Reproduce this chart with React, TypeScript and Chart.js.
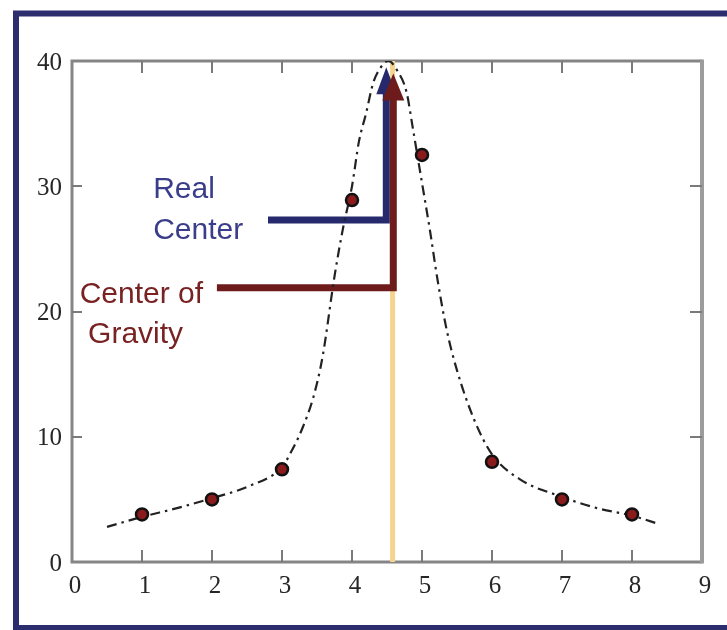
import React, { useEffect, useRef } from "react";
import { Chart, registerables } from "chart.js";

Chart.register(...registerables);

// Measured samples
const sampleX = [1, 2, 3, 4, 5, 6, 7, 8];
const sampleY = [3.8, 5.0, 7.4, 28.9, 32.5, 8.0, 5.0, 3.8];

// Fitted peak curve (dash-dot)
const fitX = [0.5, 1.0, 1.5, 2.0, 2.5, 3.0, 3.15, 3.3, 3.45, 3.58, 3.75, 3.87, 4.0, 4.1, 4.2, 4.3, 4.4, 4.52, 4.65, 4.78, 4.87, 4.99, 5.11, 5.22, 5.35, 5.5, 5.75, 6.0, 6.4, 7.0, 7.5, 8.0, 8.4];
const fitY = [2.8, 3.6, 4.3, 5.1, 6.0, 7.6, 9.0, 10.8, 13.2, 16.4, 22.8, 26.6, 30.0, 33.6, 35.8, 38.2, 39.4, 40.0, 39.2, 37.5, 34.6, 30.6, 26.6, 22.6, 18.6, 15.3, 11.3, 8.6, 6.6, 5.2, 4.3, 3.7, 3.0];

// Axis ranges
const xRange = [0, 9];
const yRange = [0, 40];

// Marker positions
const gravityX = 4.58;
const realCenterX = 4.49;

// Arrows: [startX, levelY, stemX, tipY]
const realArrow = [2.8, 27.3, realCenterX, 39.5];
const gravityArrow = [2.07, 21.9, 4.59, 39.0];

// Annotation text: [text, x, baselineY]
const realLabels: [string, number, number][] = [
  ["Real", 1.16, 29.1],
  ["Center", 1.16, 25.75],
];
const gravityLabels: [string, number, number][] = [
  ["Center of", 0.11, 20.7],
  ["Gravity", 0.23, 17.5],
];

const NAVY = "#262a6c";
const NAVY_TEXT = "#3a3e8a";
const MAROON = "#6e1b1c";
const MAROON_TEXT = "#782223";

const pageFrame = {
  id: "pageFrame",
  beforeDraw(chart: any) {
    const { ctx, width, height } = chart;
    ctx.save();
    ctx.fillStyle = "#ffffff";
    ctx.fillRect(0, 0, width, height);
    ctx.restore();
  },
  afterDraw(chart: any) {
    const { ctx, width } = chart;
    ctx.save();
    ctx.strokeStyle = "#2b2d6e";
    ctx.lineWidth = 6;
    ctx.strokeRect(16, 13.5, width + 20, 614.5);
    ctx.restore();
  },
};

const plotBox = {
  id: "plotBox",
  beforeDatasetsDraw(chart: any) {
    const { ctx, chartArea, scales } = chart;
    const { left, right, top, bottom } = chartArea;
    const x = scales.x;
    const y = scales.y;
    ctx.save();
    ctx.lineCap = "butt";
    // box
    ctx.strokeStyle = "#858585";
    ctx.lineWidth = 3;
    ctx.beginPath();
    ctx.moveTo(right, bottom);
    ctx.lineTo(left, bottom);
    ctx.lineTo(left, top);
    ctx.lineTo(right, top);
    ctx.stroke();
    ctx.strokeStyle = "#9c9c9c";
    ctx.lineWidth = 4;
    ctx.beginPath();
    ctx.moveTo(right, top - 1.5);
    ctx.lineTo(right, bottom + 1.5);
    ctx.stroke();
    // inward ticks
    ctx.strokeStyle = "#7a7a7a";
    ctx.lineWidth = 2;
    ctx.beginPath();
    x.ticks.forEach((t: any) => {
      if (t.value <= xRange[0] || t.value >= xRange[1]) return;
      const px = Math.round(x.getPixelForValue(t.value));
      ctx.moveTo(px, bottom);
      ctx.lineTo(px, bottom - 12);
      ctx.moveTo(px, top);
      ctx.lineTo(px, top + 12);
    });
    y.ticks.forEach((t: any) => {
      if (t.value <= yRange[0] || t.value >= yRange[1]) return;
      const py = Math.round(y.getPixelForValue(t.value));
      ctx.moveTo(left, py);
      ctx.lineTo(left + 10, py);
      ctx.moveTo(right, py);
      ctx.lineTo(right - 12, py);
    });
    ctx.stroke();
    ctx.restore();
  },
};

function drawArrow(ctx: any, x: any, y: any, spec: number[], color: string, headLen: number, headW: number) {
  const [sx, ly, stemX, tipY] = spec;
  const pSx = x.getPixelForValue(sx);
  const pLy = y.getPixelForValue(ly);
  const pStem = x.getPixelForValue(stemX);
  const pTip = y.getPixelForValue(tipY);
  ctx.save();
  ctx.strokeStyle = color;
  ctx.fillStyle = color;
  ctx.lineWidth = 7;
  ctx.lineJoin = "miter";
  ctx.lineCap = "butt";
  ctx.beginPath();
  ctx.moveTo(pSx, pLy);
  ctx.lineTo(pStem, pLy);
  ctx.lineTo(pStem, pTip + headLen - 2);
  ctx.stroke();
  ctx.beginPath();
  ctx.moveTo(pStem, pTip);
  ctx.lineTo(pStem - headW / 2, pTip + headLen);
  ctx.lineTo(pStem + headW / 2, pTip + headLen);
  ctx.closePath();
  ctx.fill();
  ctx.restore();
}

const arrows = {
  id: "arrows",
  afterDatasetDraw(chart: any, args: any) {
    if (args.index !== 2) return;
    const { ctx, scales } = chart;
    drawArrow(ctx, scales.x, scales.y, realArrow, NAVY, 27, 20);
    drawArrow(ctx, scales.x, scales.y, gravityArrow, MAROON, 27, 22);
  },
};

const annotations = {
  id: "annotations",
  afterDatasetsDraw(chart: any) {
    const { ctx, scales } = chart;
    ctx.save();
    ctx.font = '30px "Liberation Sans", Arial, sans-serif';
    ctx.textAlign = "left";
    ctx.textBaseline = "alphabetic";
    ctx.fillStyle = NAVY_TEXT;
    realLabels.forEach(([t, vx, vy]) => {
      ctx.fillText(t, scales.x.getPixelForValue(vx), scales.y.getPixelForValue(vy));
    });
    ctx.fillStyle = MAROON_TEXT;
    gravityLabels.forEach(([t, vx, vy]) => {
      ctx.fillText(t, scales.x.getPixelForValue(vx), scales.y.getPixelForValue(vy));
    });
    ctx.restore();
  },
};

export default function App() {
  const canvasRef = useRef<HTMLCanvasElement | null>(null);

  useEffect(() => {
    if (!canvasRef.current) return;
    const chart = new Chart(canvasRef.current, {
      type: "scatter",
      data: {
        datasets: [
          {
            label: "Samples",
            data: sampleX.map((v, i) => ({ x: v, y: sampleY[i] })),
            pointRadius: 6,
            pointBackgroundColor: "#8a1b1d",
            pointBorderColor: "#111111",
            pointBorderWidth: 2.5,
            showLine: false,
          },
          {
            label: "Fit",
            data: fitX.map((v, i) => ({ x: v, y: fitY[i] })),
            showLine: true,
            pointRadius: 0,
            borderColor: "#222222",
            borderWidth: 2.2,
            borderDash: [10, 5, 2.5, 5],
            cubicInterpolationMode: "monotone",
          },
          {
            label: "Center of gravity",
            data: [
              { x: gravityX, y: yRange[0] },
              { x: gravityX, y: yRange[1] },
            ],
            showLine: true,
            pointRadius: 0,
            borderColor: "#f6d48f",
            borderWidth: 5,
          },
        ],
      },
      options: {
        animation: false,
        responsive: false,
        layout: { padding: { top: 61, right: 25, left: 0, bottom: 0 } },
        plugins: {
          legend: { display: false },
          tooltip: { enabled: false },
        },
        scales: {
          x: {
            type: "linear",
            min: xRange[0],
            max: xRange[1],
            grid: { display: false, drawTicks: false },
            border: { display: false },
            ticks: {
              stepSize: 1,
              padding: 9,
              labelOffset: 3,
              color: "#262626",
              font: { family: '"Liberation Serif", "Times New Roman", serif', size: 25 },
            },
            afterFit(scale: any) {
              scale.height = 68;
            },
          },
          y: {
            type: "linear",
            min: yRange[0],
            max: yRange[1],
            grid: { display: false, drawTicks: false },
            border: { display: false },
            ticks: {
              stepSize: 10,
              padding: 10,
              labelOffset: 2,
              color: "#262626",
              font: { family: '"Liberation Serif", "Times New Roman", serif', size: 25 },
            },
            afterFit(scale: any) {
              scale.width = 72;
            },
          },
        },
      },
      plugins: [pageFrame, plotBox, arrows, annotations],
    } as any);
    return () => chart.destroy();
  }, []);

  return (
    <div style={{ position: "fixed", left: 0, top: 0, width: 727, height: 630, background: "#fff" }}>
      <canvas ref={canvasRef} width={727} height={630} style={{ display: "block" }} />
    </div>
  );
}
